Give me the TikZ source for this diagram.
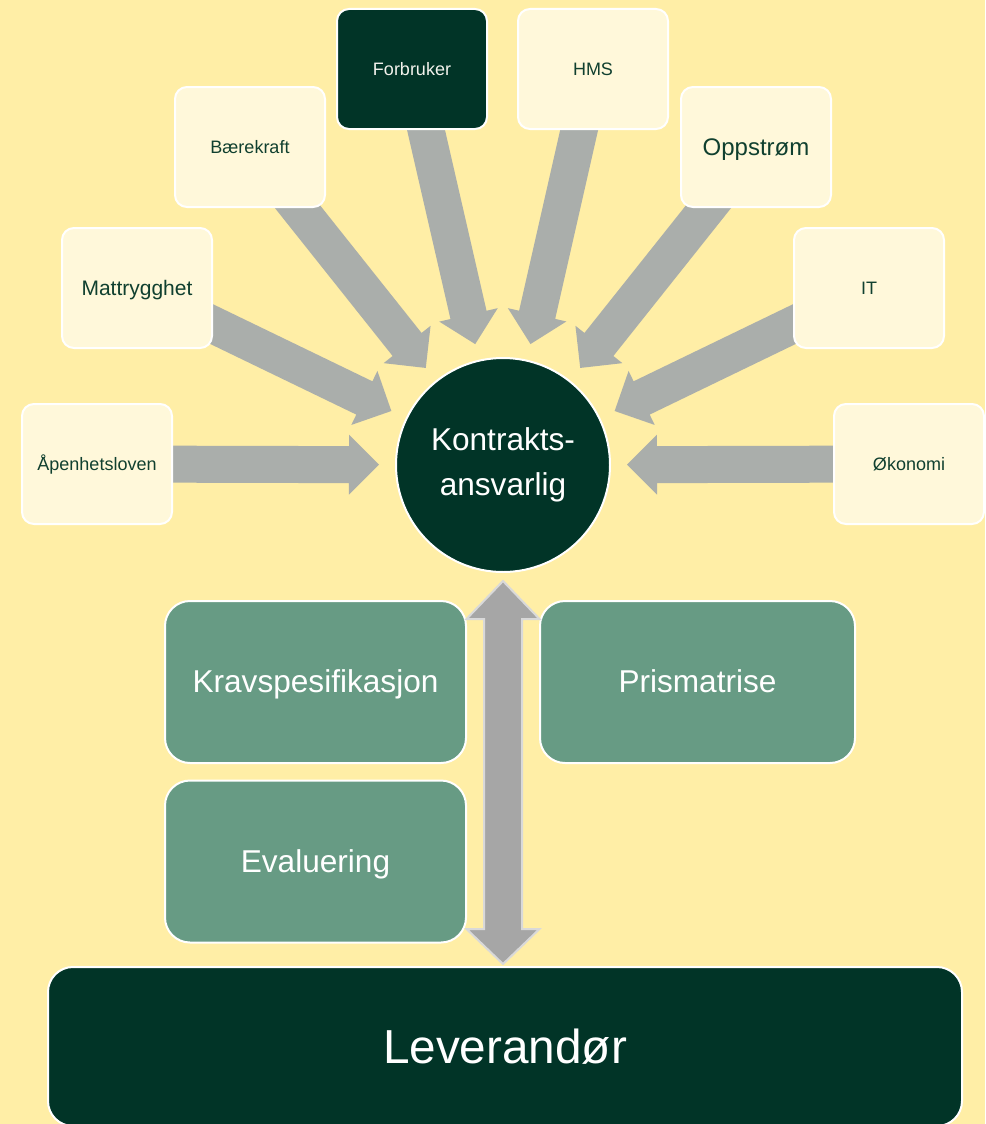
\documentclass[tikz,border=0pt]{standalone}
\usepackage{fontspec}
\setmainfont{Liberation Sans}
\usetikzlibrary{calc}
\pgfdeclarelayer{bg}
\pgfdeclarelayer{arr}
\pgfsetlayers{bg,arr,main}
\definecolor{bgc}{HTML}{FFEEA6}
\definecolor{boxc}{HTML}{FFF8DA}
\definecolor{darkc}{HTML}{013427}
\definecolor{greenc}{HTML}{679B84}
\definecolor{txtc}{HTML}{10402F}
\definecolor{grayc}{HTML}{AAAEAB}
\definecolor{dblfill}{HTML}{A6A6A6}
\definecolor{dbldraw}{HTML}{D9D9D9}
\definecolor{lighttxt}{HTML}{F2F2EC}
\newcommand\fatarr[2]{%
  \fill[grayc] let \p1=(#1.center), \p2=(#2.center),
    \n1={atan2(\y2-\y1,\x2-\x1)}, \n2={veclen(\x2-\x1,\y2-\y1)} in
    [shift={(\p1)}, rotate=\n1]
    (0,-18.5) -- ({\n2-154},-18.5) -- ({\n2-154},-30) -- ({\n2-124},0)
    -- ({\n2-154},30) -- ({\n2-154},18.5) -- (0,18.5) -- cycle;}
\begin{document}
\begin{tikzpicture}[x=1pt,y=-1pt,
  fs/.style={font=\fontsize{#1}{#1}\selectfont, text height=0.905*#1pt, text depth=0.212*#1pt},
  topic/.style={rectangle, rounded corners=12pt, draw=white, line width=2pt,
    fill=boxc, minimum width=150pt, minimum height=120pt, text=txtc,
    fs=18, inner sep=0pt},
  greenbox/.style={rectangle, rounded corners=25pt, draw=white, line width=2pt,
    fill=greenc, minimum height=162pt, text=white,
    fs=31.6, inner sep=0pt}]
\clip (0,0) rectangle (985,1124);
\begin{pgfonlayer}{bg}
\fill[bgc] (0,0) rectangle (985,1124);
\end{pgfonlayer}

\node[topic] (apen) at (97,464) {Åpenhetsloven};
\node[topic, fs=21] (mat) at (137,288) {Mattrygghet};
\node[topic] (baer) at (250,147) {Bærekraft};
\node[topic, fill=darkc, text=lighttxt] (forb) at (412,69) {Forbruker};
\node[topic] (hms) at (593,69) {HMS};
\node[topic, fs=24] (opp) at (756,147) {Oppstrøm};
\node[topic] (it) at (869,288) {IT};
\node[topic] (oko) at (909,464) {Økonomi};

\node[circle, fill=darkc, draw=white, line width=2pt, minimum size=214pt,
  inner sep=0pt, text=white, align=center,
  font=\fontsize{31.6}{45}\selectfont] (k) at (503,465) {Kontrakts-\\ansvarlig};

\node[greenbox, minimum width=301pt] (krav) at (315.5,682) {Kravspesifikasjon};
\node[greenbox, minimum width=315pt] (pris) at (697.5,682) {Prismatrise};
\node[greenbox, minimum width=301pt] (eval) at (315.5,861.5) {Evaluering};

\node[rectangle, rounded corners=25pt, draw=white, line width=2pt, fill=darkc,
  minimum width=914pt, minimum height=159pt, inner sep=0pt, text=white,
  fs=47.7] (lev) at (505,1046.5) {Leverandør};

\begin{pgfonlayer}{arr}
\fatarr{apen}{k}
\fatarr{mat}{k}
\fatarr{baer}{k}
\fatarr{forb}{k}
\fatarr{hms}{k}
\fatarr{opp}{k}
\fatarr{it}{k}
\fatarr{oko}{k}
\end{pgfonlayer}

\draw[draw=dbldraw, fill=dblfill, line width=2pt, line join=miter]
  let \p1=(k.south), \p2=(lev.north) in
  (\x1,{\y1-8pt}) -- ({\x1+36.5pt},{\y1-46pt}) -- ({\x1+19pt},{\y1-46pt})
  -- ({\x1+19pt},{\y2+37pt}) -- ({\x1+36.5pt},{\y2+37pt}) -- (\x1,{\y2+2pt})
  -- ({\x1-36.5pt},{\y2+37pt}) -- ({\x1-19pt},{\y2+37pt})
  -- ({\x1-19pt},{\y1-46pt}) -- ({\x1-36.5pt},{\y1-46pt}) -- cycle;
\end{tikzpicture}
\end{document}
